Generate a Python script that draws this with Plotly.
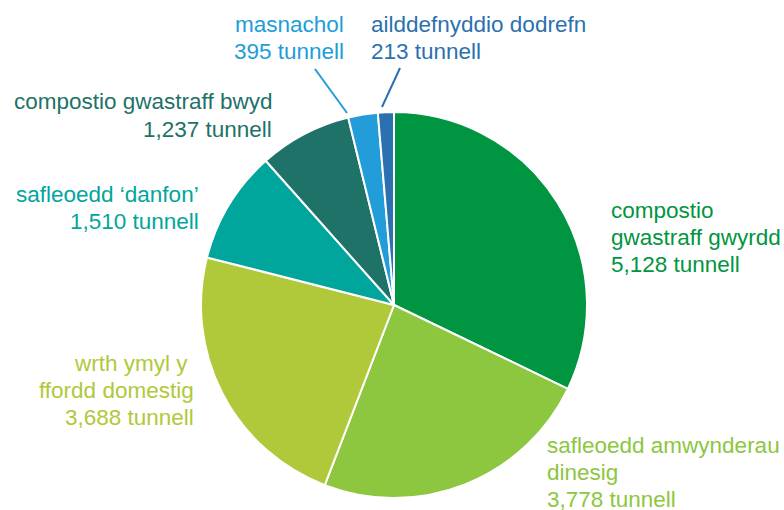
import plotly.graph_objects as go

W, H = 784, 510

categories = [
    "compostio gwastraff gwyrdd",
    "safleoedd amwynderau dinesig",
    "wrth ymyl y ffordd domestig",
    "safleoedd ‘danfon’",
    "compostio gwastraff bwyd",
    "masnachol",
    "ailddefnyddio dodrefn",
]
tonnes = [5128, 3778, 3688, 1510, 1237, 395, 213]
label_lines = [
    ["compostio", "gwastraff gwyrdd"],
    ["safleoedd amwynderau", "dinesig"],
    ["wrth ymyl y\u00a0", "ffordd domestig"],
    ["safleoedd ‘danfon’"],
    ["compostio gwastraff bwyd"],
    ["masnachol"],
    ["ailddefnyddio dodrefn"],
]
colors = ["#009641", "#8DC63F", "#AFC93A", "#00A69C", "#1E7268", "#229DD9", "#2C71AF"]

# label anchors in pixels: x, centre of first line, xanchor
label_pos = [
    (609, 210, "left"),
    (545, 445, "left"),
    (196, 363, "right"),
    (201, 194, "right"),
    (274, 102, "right"),
    (346, 24, "right"),
    (369, 24, "left"),
]
line_step = 27.2
# leader lines for the two thin slices, pixels
leaders = {5: ((315, 69), (347, 113)), 6: ((400, 68), (382, 107))}


def px(x, y):
    return x / W, 1 - y / H


cx, cy, r = 394, 305, 193
fig = go.Figure()
fig.add_trace(
    go.Pie(
        labels=categories,
        values=tonnes,
        sort=False,
        direction="clockwise",
        rotation=0,
        marker=dict(colors=colors, line=dict(color="white", width=2)),
        textinfo="none",
        hoverinfo="label+value",
        showlegend=False,
        domain=dict(
            x=[(cx - r) / W, (cx + r) / W],
            y=[1 - (cy + r) / H, 1 - (cy - r) / H],
        ),
    )
)

for i, (lines, val) in enumerate(zip(label_lines, tonnes)):
    x, y0, xa = label_pos[i]
    for k, line in enumerate(lines + [f"{val:,} tunnell"]):
        xp, yp = px(x, y0 + k * line_step)
        fig.add_annotation(
            x=xp, y=yp, xref="paper", yref="paper",
            xanchor=xa, yanchor="middle",
            text=line, showarrow=False,
            font=dict(family="Liberation Sans, Arial", size=22.5, color=colors[i]),
        )

for i, (p0, p1) in leaders.items():
    x0, y0 = px(*p0)
    x1, y1 = px(*p1)
    fig.add_shape(
        type="line", xref="paper", yref="paper",
        x0=x0, y0=y0, x1=x1, y1=y1,
        line=dict(color=colors[i], width=2),
    )

fig.update_layout(
    width=W,
    height=H,
    margin=dict(l=0, r=0, t=0, b=0),
    paper_bgcolor="white",
    plot_bgcolor="white",
)

fig.write_html(
    "out.html",
    config={"displayModeBar": False},
    post_script="document.body.style.margin='0';",
)
